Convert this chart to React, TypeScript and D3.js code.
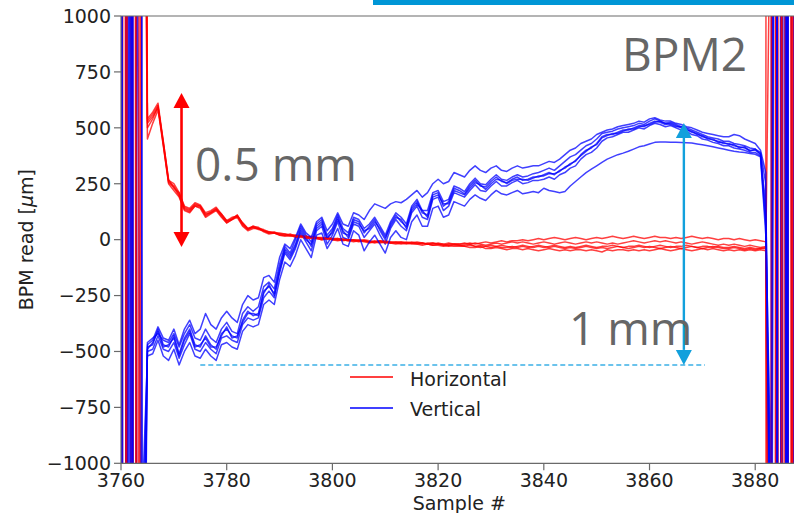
import React from "react";
import * as d3 from "d3";

// ---- data (samples 3760..3888) ----
const X_START = 3760;
const xTicks = [3760, 3780, 3800, 3820, 3840, 3860, 3880];
const yTicks = [-1000, -750, -500, -250, 0, 250, 500, 750, 1000];

// Horizontal (red) traces: left wild edge (3760-3764), core (3765-3881), right wild edge (3882-3888)
const h1Left = [-45000, 4000, -60000, 2500, 3600];
const h1Core = [
  530, 560, 600, 430, 260, 240, 200, 140, 130, 160,
  150, 110, 125, 140, 110, 80, 95, 110, 70, 45,
  60, 55, 40, 30, 35, 25, 20, 25, 15, 20,
  10, 15, 10, 5, 10, 5, 0, 5, 0, -5,
  0, -5, -10, -5, -10, -5, -10, -15, -10, -15,
  -10, -15, -20, -15, -15, -20, -25, -20, -20, -25,
  -25, -20, -30, -25, -30, -35, -30, -25, -30, -35,
  -30, -25, -30, -35, -30, -35, -30, -25, -30, -35,
  -30, -35, -30, -25, -30, -35, -30, -30, -25, -30,
  -35, -30, -30, -25, -30, -35, -30, -25, -30, -35,
  -30, -30, -25, -30, -35, -30, -30, -35, -30, -35,
  -35, -30, -35, -40, -35, -40, -40,
];
const h1Right = [-40, 35000, -4800, 27000, -5600, 41000, -3000];

const h2Left = [3000, -52000, 7000, -18000, 4200];
const h2Core = [
  520, 550, 590, 440, 270, 230, 210, 150, 140, 165,
  155, 120, 130, 145, 115, 85, 100, 105, 75, 50,
  55, 50, 45, 35, 30, 30, 25, 20, 20, 15,
  15, 10, 10, 5, 5, 0, 5, 0, -5, 0,
  -5, -5, -10, -10, -5, -10, -15, -10, -10, -15,
  -15, -10, -15, -20, -15, -20, -20, -15, -20, -20,
  -20, -15, -20, -15, -10, -15, -10, -5, -10, -5,
  -5, 0, -5, 0, 5, 0, 5, 10, 5, 0,
  5, 10, 5, 0, 5, 10, 5, 10, 15, 10,
  5, 10, 15, 10, 5, 10, 15, 10, 10, 5,
  10, 5, 10, 15, 10, 5, 10, 5, 0, 5,
  5, 0, 5, 0, -5, 0, -5,
];
const h2Right = [-10, -4200, 29000, -61000, 3800, -20000, 5000];

const h3Left = [-12000, 27000, -3000, 36000, 2800];
const h3Core = [
  450, 520, 580, 420, 250, 220, 190, 130, 120, 150,
  140, 100, 115, 130, 100, 75, 90, 100, 60, 40,
  50, 50, 35, 25, 30, 20, 15, 20, 10, 15,
  5, 10, 5, 0, 5, 0, -5, 0, -5, -10,
  -5, -10, -15, -10, -15, -10, -15, -20, -15, -20,
  -15, -20, -25, -20, -25, -25, -30, -25, -30, -30,
  -30, -35, -35, -30, -40, -40, -35, -40, -45, -40,
  -40, -45, -40, -45, -50, -45, -40, -45, -50, -45,
  -50, -45, -45, -50, -45, -50, -55, -45, -50, -45,
  -45, -50, -45, -50, -45, -50, -45, -40, -45, -50,
  -45, -40, -45, -50, -45, -40, -45, -40, -45, -50,
  -45, -50, -45, -50, -45, -50, -45,
];
const h3Right = [-50, 1800, -33000, 5700, -25000, 4600, -39000];

const h4Left = [54000, -2300, 15000, -4700, 9000];
const h4Core = [
  540, 570, 610, 440, 265, 250, 210, 145, 135, 155,
  150, 115, 120, 135, 115, 85, 90, 110, 75, 50,
  60, 50, 40, 35, 30, 25, 25, 20, 20, 15,
  15, 10, 10, 10, 5, 5, 5, 0, 0, 0,
  -5, 0, -5, -10, -5, -10, -10, -10, -15, -10,
  -15, -15, -15, -20, -20, -15, -20, -25, -20, -20,
  -15, -20, -15, -20, -25, -20, -15, -20, -15, -10,
  -15, -10, -15, -20, -15, -10, -15, -20, -15, -10,
  -15, -20, -15, -10, -15, -10, -15, -20, -15, -20,
  -15, -10, -5, -10, -15, -10, -5, -10, -5, -10,
  -15, -10, -15, -20, -15, -10, -15, -20, -25, -20,
  -25, -20, -25, -30, -25, -30, -35,
];
const h4Right = [-30, -26000, 5100, -37000, 22000, -5800, 34000];

const h5Left = [22000, -3500, 47000, -8000, 5000];
const h5Core = [
  500, 540, 595, 425, 255, 235, 195, 135, 125, 150,
  145, 105, 120, 135, 105, 75, 90, 105, 65, 45,
  55, 45, 40, 30, 30, 20, 20, 15, 15, 10,
  10, 5, 5, 0, 5, 0, 0, -5, 0, -5,
  -10, -5, -10, -15, -10, -15, -15, -15, -20, -15,
  -20, -20, -15, -20, -25, -20, -25, -30, -25, -25,
  -30, -25, -30, -35, -30, -25, -30, -35, -35, -30,
  -35, -30, -35, -30, -25, -30, -35, -30, -35, -40,
  -35, -40, -35, -30, -35, -40, -35, -40, -35, -30,
  -35, -40, -35, -30, -35, -30, -35, -40, -35, -30,
  -35, -40, -35, -30, -35, -40, -35, -30, -35, -40,
  -40, -35, -40, -45, -40, -45, -40,
];
const h5Right = [-35, -3300, 42000, -2400, 55000, -7000, 19000];

// Vertical (blue) traces
const v1Left = [38000, -4100, 5600, -29000, -1800];
const v1Core = [
  -480, -470, -400, -470, -480, -430, -510, -440, -400, -470,
  -480, -430, -470, -490, -420, -400, -430, -440, -360, -320,
  -340, -330, -230, -210, -240, -130, -40, -70, -20, 50,
  10, -30, 60, 80, 0, 40, 100, 30, 20, 90,
  80, 30, 60, 90, 40, 0, 70, 110, 80, 60,
  140, 170, 120, 110, 200, 210, 150, 170, 230, 220,
  205, 240, 265, 240, 235, 260, 280, 260, 255, 270,
  280, 265, 270, 280, 280, 290, 300, 290, 310, 320,
  340, 350, 380, 400, 410, 430, 460, 470, 470, 480,
  490, 490, 500, 510, 505, 520, 530, 525, 515, 520,
  510, 500, 495, 480, 475, 460, 455, 445, 440, 430,
  430, 420, 415, 410, 400, 400, 385,
];
const v1Right = [150, -1300, 4500, -32000, 5800, -21000, 4000];

const v2Left = [-2600, 48000, -33000, 1900, -2500];
const v2Core = [
  -460, -440, -420, -450, -460, -420, -480, -420, -380, -440,
  -450, -400, -440, -460, -400, -370, -410, -420, -330, -300,
  -320, -300, -210, -190, -220, -110, -30, -60, 0, 60,
  20, -10, 70, 90, 20, 50, 110, 50, 30, 100,
  90, 50, 70, 100, 60, 20, 80, 120, 100, 70,
  150, 180, 130, 130, 210, 220, 170, 180, 240, 230,
  215, 250, 275, 250, 245, 270, 290, 270, 265, 280,
  290, 280, 285, 295, 300, 310, 320, 310, 330, 350,
  370, 380, 400, 420, 430, 450, 475, 480, 485, 495,
  500, 505, 510, 520, 515, 530, 540, 530, 520, 525,
  515, 505, 500, 490, 480, 470, 460, 455, 450, 440,
  440, 430, 425, 420, 410, 405, 390,
];
const v2Right = [250, -2000, -38000, 4900, -2700, 36000, -5500];

const v3Left = [6100, -17000, 39000, -5200, -1400];
const v3Core = [
  -500, -490, -430, -490, -500, -460, -530, -470, -420, -490,
  -500, -460, -490, -510, -440, -430, -450, -460, -380, -350,
  -360, -350, -260, -230, -260, -150, -60, -90, -40, 30,
  -10, -50, 40, 60, -20, 20, 80, 10, 0, 70,
  60, 10, 40, 70, 20, -20, 50, 90, 60, 40,
  120, 150, 100, 90, 180, 190, 130, 150, 210, 200,
  190, 220, 245, 220, 215, 240, 260, 240, 240, 255,
  265, 250, 255, 265, 265, 270, 280, 270, 290, 300,
  320, 330, 360, 380, 390, 410, 440, 455, 460, 470,
  480, 480, 490, 500, 495, 510, 520, 515, 505, 510,
  500, 490, 485, 470, 465, 450, 445, 435, 430, 420,
  420, 410, 405, 400, 390, 390, 375,
];
const v3Right = [60, -1100, 24000, -5900, 31000, -4400, 2600];

const v4Left = [-53000, 2200, -14000, 43000, -3000];
const v4Core = [
  -470, -450, -390, -440, -450, -400, -470, -400, -360, -420,
  -400, -330, -380, -400, -350, -320, -350, -370, -290, -250,
  -270, -260, -170, -160, -190, -80, -20, -40, 10, 70,
  30, 10, 80, 100, 40, 70, 120, 70, 60, 120,
  110, 90, 130, 160, 150, 140, 160, 170, 165, 180,
  200, 220, 190, 210, 250, 270, 250, 260, 300, 290,
  280, 310, 330, 310, 300, 320, 330, 310, 305, 320,
  330, 320, 325, 330, 330, 340, 350, 345, 360, 380,
  400, 410, 430, 440, 450, 470, 480, 490, 495, 505,
  510, 515, 520, 530, 525, 540, 545, 535, 530, 530,
  520, 515, 505, 500, 490, 480, 475, 470, 465, 460,
  460, 470, 465, 450, 440, 430, 400,
];
const v4Right = [300, -3000, 5200, -19000, 4700, -35000, 6000];

const v5Left = [1700, -36000, 6400, -24000, -1200];
const v5Core = [
  -520, -510, -450, -520, -540, -490, -560, -500, -460, -520,
  -530, -490, -520, -540, -470, -460, -480, -490, -410, -380,
  -390, -380, -290, -270, -290, -180, -100, -120, -70, 0,
  -40, -80, 20, 30, -40, 0, 50, -20, -30, 40,
  20, -50, -10, 20, -20, -60, 10, 40, 10, 0,
  80, 110, 60, 60, 140, 150, 100, 110, 170, 160,
  150, 180, 200, 185, 175, 200, 220, 205, 200, 210,
  220, 205, 210, 215, 210, 230, 220, 215, 210, 215,
  240, 260, 280, 300, 315, 330, 345, 360, 370, 380,
  387, 395, 405, 415, 420, 428, 435, 437, 437, 436,
  435, 434, 433, 432, 428, 424, 420, 415, 410, 405,
  400, 395, 392, 390, 385, 382, 370,
];
const v5Right = [20, -1500, -2800, 39000, -6200, 23000, -4100];

const v6Left = [-7000, 33000, -2100, 58000, -2200];
const v6Core = [
  -490, -460, -410, -480, -470, -440, -520, -450, -410, -480,
  -470, -440, -480, -480, -430, -390, -440, -430, -370, -330,
  -330, -340, -240, -200, -250, -140, -50, -80, -30, 40,
  0, -20, 50, 70, 10, 30, 90, 40, 10, 80,
  70, 40, 50, 80, 50, 10, 60, 100, 90, 50,
  130, 160, 130, 100, 190, 200, 160, 160, 220, 210,
  200, 230, 255, 245, 225, 250, 270, 265, 250, 265,
  270, 270, 265, 275, 285, 285, 295, 295, 305, 325,
  335, 355, 375, 395, 415, 425, 455, 465, 475, 475,
  485, 495, 495, 505, 510, 515, 525, 530, 520, 515,
  505, 505, 490, 485, 470, 465, 450, 450, 435, 435,
  425, 425, 410, 415, 395, 405, 380,
];
const v6Right = [100, -1700, 6800, -44000, 2900, -26000, 49000];

const horizontalTraces = [
  [h1Left, h1Core, h1Right],
  [h2Left, h2Core, h2Right],
  [h3Left, h3Core, h3Right],
  [h4Left, h4Core, h4Right],
  [h5Left, h5Core, h5Right],
];
const verticalTraces = [
  [v1Left, v1Core, v1Right],
  [v2Left, v2Core, v2Right],
  [v3Left, v3Core, v3Right],
  [v4Left, v4Core, v4Right],
  [v5Left, v5Core, v5Right],
  [v6Left, v6Core, v6Right],
];

// annotations (data coords)
const redArrow = { x: 3771.45, y0: -33, y1: 656 };
const blueArrow = { x: 3866.5, y0: -560, y1: 522 };
const dashed = { x0: 3775, x1: 3870.5, y: -560 };

const W = 794;
const H = 513;
const L = 121;
const T = 16;
const B = 463.3;
const R = 797.5;

const x = d3.scaleLinear().domain([3760, 3888]).range([L, R]);
const y = d3.scaleLinear().domain([-1000, 1000]).range([B, T]);

function toPoints(parts: number[][]) {
  const vals = ([] as number[]).concat(...parts);
  return vals.map((v, i) => [X_START + i, v] as [number, number]);
}

const line = d3
  .line<[number, number]>()
  .x((d) => x(d[0]))
  .y((d) => y(d[1]));

const fmt = (v: number) => (v < 0 ? "\u2212" + Math.abs(v) : String(v));

export default function App() {
  const shots: { d: string; color: string }[] = [];
  const n = Math.max(horizontalTraces.length, verticalTraces.length);
  for (let i = 0; i < n; i++) {
    if (horizontalTraces[i])
      shots.push({ d: line(toPoints(horizontalTraces[i])) || "", color: "#ff0000" });
    if (verticalTraces[i])
      shots.push({ d: line(toPoints(verticalTraces[i])) || "", color: "#0000ff" });
  }
  const axisColor = "#6a6a6a";
  const tickFont = "DejaVu Sans, sans-serif";
  const annoFont = "'Open Sans', 'Noto Sans', sans-serif";

  const rx = x(redArrow.x);
  const ry0 = y(redArrow.y0);
  const ry1 = y(redArrow.y1);
  const bx = x(blueArrow.x);
  const by0 = y(blueArrow.y0);
  const by1 = y(blueArrow.y1);
  const head = 15;
  const hw = 8;

  return (
    <svg
      width={W}
      height={H}
      style={{ position: "absolute", left: 0, top: 0, background: "#fff" }}
    >
      <defs>
        <clipPath id="plot">
          <rect x={L} y={T} width={R - L} height={B - T} />
        </clipPath>
      </defs>
      <rect x={0} y={0} width={W} height={H} fill="#fff" />
      {/* slide decoration bar */}
      <rect x={373} y={0} width={W - 373} height={5} fill="#0096d6" />

      {/* traces */}
      <g clipPath="url(#plot)">
        {shots.map((s, i) => (
          <path
            key={i}
            d={s.d}
            fill="none"
            stroke={s.color}
            strokeOpacity={0.75}
            strokeWidth={1.5}
            strokeLinejoin="round"
          />
        ))}
      </g>

      {/* spines */}
      <line x1={L} x2={W} y1={T} y2={T} stroke={axisColor} strokeWidth={1.2} />
      <line x1={L} x2={W} y1={B} y2={B} stroke={axisColor} strokeWidth={1.2} />
      <line x1={L} x2={L} y1={T} y2={B} stroke={axisColor} strokeWidth={1.2} />

      {/* y ticks */}
      {yTicks.map((t) => (
        <g key={"y" + t}>
          <line x1={L - 7} x2={L} y1={y(t)} y2={y(t)} stroke={axisColor} strokeWidth={1.2} />
          <text
            x={L - 10}
            y={y(t)}
            dy="0.36em"
            textAnchor="end"
            fontFamily={tickFont}
            fontSize={19}
            fill="#222"
          >
            {fmt(t)}
          </text>
        </g>
      ))}
      {/* x ticks */}
      {xTicks.map((t) => (
        <g key={"x" + t}>
          <line x1={x(t)} x2={x(t)} y1={B} y2={B + 7} stroke={axisColor} strokeWidth={1.2} />
          <text
            x={x(t)}
            y={487}
            textAnchor="middle"
            fontFamily={tickFont}
            fontSize={19}
            fill="#222"
          >
            {t}
          </text>
        </g>
      ))}
      <text
        x={(L + R) / 2}
        y={510}
        textAnchor="middle"
        fontFamily={tickFont}
        fontSize={19}
        fill="#222"
      >
        Sample #
      </text>
      <text
        transform={`translate(33, ${(T + B) / 2}) rotate(-90)`}
        textAnchor="middle"
        fontFamily={tickFont}
        fontSize={19}
        fill="#222"
      >
        BPM read [<tspan fontStyle="italic">μ</tspan>m]
      </text>

      {/* legend */}
      <line x1={350} x2={393} y1={377} y2={377} stroke="#ff0000" strokeOpacity={0.75} strokeWidth={1.8} />
      <text x={410} y={386} fontFamily={tickFont} fontSize={19} fill="#222">
        Horizontal
      </text>
      <line x1={350} x2={393} y1={408} y2={408} stroke="#0000ff" strokeOpacity={0.75} strokeWidth={1.8} />
      <text x={410} y={416} fontFamily={tickFont} fontSize={19} fill="#222">
        Vertical
      </text>

      {/* dashed reference line */}
      <line
        x1={x(dashed.x0)}
        x2={x(dashed.x1)}
        y1={y(dashed.y)}
        y2={y(dashed.y)}
        stroke="#3bb0e6"
        strokeWidth={1.5}
        strokeDasharray="5 3"
      />

      {/* red double arrow */}
      <line x1={rx} x2={rx} y1={ry1 + head} y2={ry0 - head} stroke="#ff0000" strokeWidth={2.6} />
      <path d={`M${rx},${ry1} L${rx - hw},${ry1 + head} L${rx + hw},${ry1 + head} Z`} fill="#ff0000" />
      <path d={`M${rx},${ry0} L${rx - hw},${ry0 - head} L${rx + hw},${ry0 - head} Z`} fill="#ff0000" />

      {/* blue double arrow */}
      <line x1={bx} x2={bx} y1={by1 + head} y2={by0 - head} stroke="#12a0dc" strokeWidth={2.4} />
      <path d={`M${bx},${by1} L${bx - hw},${by1 + head} L${bx + hw},${by1 + head} Z`} fill="#12a0dc" />
      <path d={`M${bx},${by0} L${bx - hw},${by0 - head} L${bx + hw},${by0 - head} Z`} fill="#12a0dc" />

      {/* annotation texts */}
      <text x={195} y={181} fontFamily={annoFont} fontSize={46} fill="#666">
        0.5 mm
      </text>
      <text x={622} y={71} fontFamily={annoFont} fontSize={46} fill="#666">
        BPM2
      </text>
      <text x={569} y={345} fontFamily={annoFont} fontSize={46} fill="#666">
        1 mm
      </text>
    </svg>
  );
}
